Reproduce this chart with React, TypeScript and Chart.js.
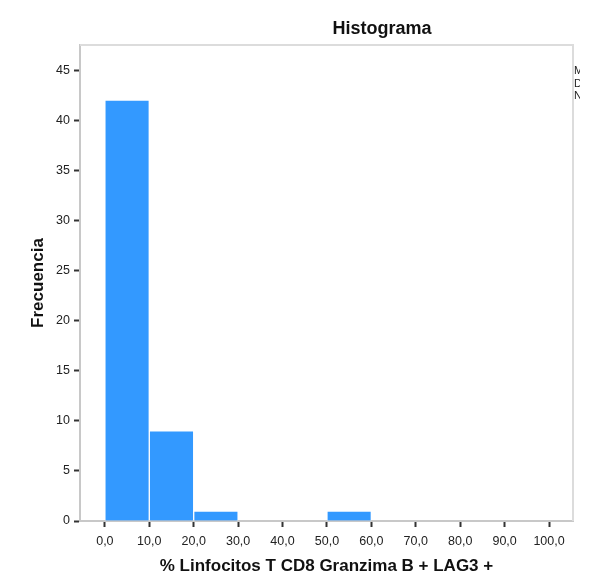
import { useEffect, useRef } from "react";
import { Chart, registerables } from "chart.js";

Chart.register(...registerables);

// ---- data ----
const binStarts = [0, 10, 20, 30, 40, 50, 60, 70, 80, 90];
const binWidth = 10;
const frequencies = [42, 9, 1, 0, 0, 1, 0, 0, 0, 0];
const xTickValues = [0, 10, 20, 30, 40, 50, 60, 70, 80, 90, 100];
const yTickValues = [0, 5, 10, 15, 20, 25, 30, 35, 40, 45];
const chartTitle = "Histograma";
const xAxisTitle = "% Linfocitos T CD8 Granzima B + LAG3 +";
const yAxisTitle = "Frecuencia";
const legendStub = ["Media", "Desv. Desviación", "N"];

const FONT = "'Liberation Sans', Arial, sans-serif";

const decorPlugin = {
  id: "decor",
  afterDraw(chart: any) {
    const { ctx, chartArea } = chart;
    const { left, right, top, bottom } = chartArea;
    ctx.save();
    // frame (top + right)
    ctx.strokeStyle = "#dcdcdc";
    ctx.lineWidth = 2;
    ctx.beginPath();
    ctx.moveTo(left, top);
    ctx.lineTo(right, top);
    ctx.lineTo(right, bottom);
    ctx.stroke();

    ctx.fillStyle = "#111";
    ctx.textAlign = "center";
    ctx.textBaseline = "middle";
    ctx.font = `bold 18px ${FONT}`;
    ctx.fillText(chartTitle, 382, 29);

    ctx.font = `bold 17px ${FONT}`;
    ctx.fillText(xAxisTitle, (left + right) / 2, 566);

    ctx.save();
    ctx.translate(38, (top + bottom) / 2);
    ctx.rotate(-Math.PI / 2);
    ctx.fillText(yAxisTitle, 0, 0);
    ctx.restore();

    // cut-off legend text on the right
    ctx.save();
    ctx.beginPath();
    ctx.rect(right + 1, 0, 580 - right - 1, 576);
    ctx.clip();
    ctx.font = `11px ${FONT}`;
    ctx.textAlign = "left";
    ctx.fillStyle = "#222";
    legendStub.forEach((t, i) => ctx.fillText(t, right + 1, 71 + i * 12.5));
    ctx.restore();

    ctx.restore();
  },
};

export default function App() {
  const ref = useRef<HTMLCanvasElement>(null);

  useEffect(() => {
    document.body.style.margin = "0";
    const canvas = ref.current;
    if (!canvas) return;
    const chart = new Chart(canvas, {
      type: "bar",
      data: {
        datasets: [
          {
            data: binStarts.map((s, i) => ({ x: s + binWidth / 2, y: frequencies[i] })),
            backgroundColor: "#3399ff",
            borderColor: "rgba(255,255,255,0.85)",
            borderWidth: 1,
            barPercentage: 1,
            categoryPercentage: 1,
          } as any,
        ],
      },
      options: {
        responsive: false,
        animation: false,
        devicePixelRatio: 1,
        layout: { padding: { top: 45, right: 17, left: 0, bottom: 0 } },
        plugins: {
          legend: { display: false },
          tooltip: { enabled: false },
          title: { display: false },
        },
        scales: {
          x: {
            type: "linear",
            offset: false,
            min: -5.6,
            max: 105.4,
            afterBuildTicks: (scale: any) => {
              scale.ticks = xTickValues.map((v) => ({ value: v }));
            },
            afterFit: (scale: any) => {
              scale.height = 55;
            },
            ticks: {
              autoSkip: false,
              maxRotation: 0,
              padding: 7,
              color: "#222",
              font: { family: FONT, size: 12.5 },
              callback: (v: any) => Number(v).toFixed(1).replace(".", ","),
            },
            grid: {
              offset: false,
              drawOnChartArea: false,
              drawTicks: true,
              tickLength: 6,
              tickColor: "#333",
              tickWidth: 2,
            },
            border: { display: true, color: "#c8c8c8", width: 2 },
          },
          y: {
            type: "linear",
            min: 0,
            max: 47.5,
            afterBuildTicks: (scale: any) => {
              scale.ticks = yTickValues.map((v) => ({ value: v }));
            },
            afterFit: (scale: any) => {
              scale.width = 80;
            },
            ticks: {
              autoSkip: false,
              padding: 4,
              color: "#222",
              font: { family: FONT, size: 12.5 },
              callback: (v: any) => String(v),
            },
            grid: {
              offset: false,
              drawOnChartArea: false,
              drawTicks: true,
              tickLength: 6,
              tickColor: "#333",
              tickWidth: 2,
            },
            border: { display: true, color: "#c8c8c8", width: 2 },
          },
        },
      } as any,
      plugins: [decorPlugin],
    });
    return () => chart.destroy();
  }, []);

  return (
    <div style={{ width: 590, height: 576 }}>
      <canvas ref={ref} width={590} height={576} style={{ display: "block" }} />
    </div>
  );
}
